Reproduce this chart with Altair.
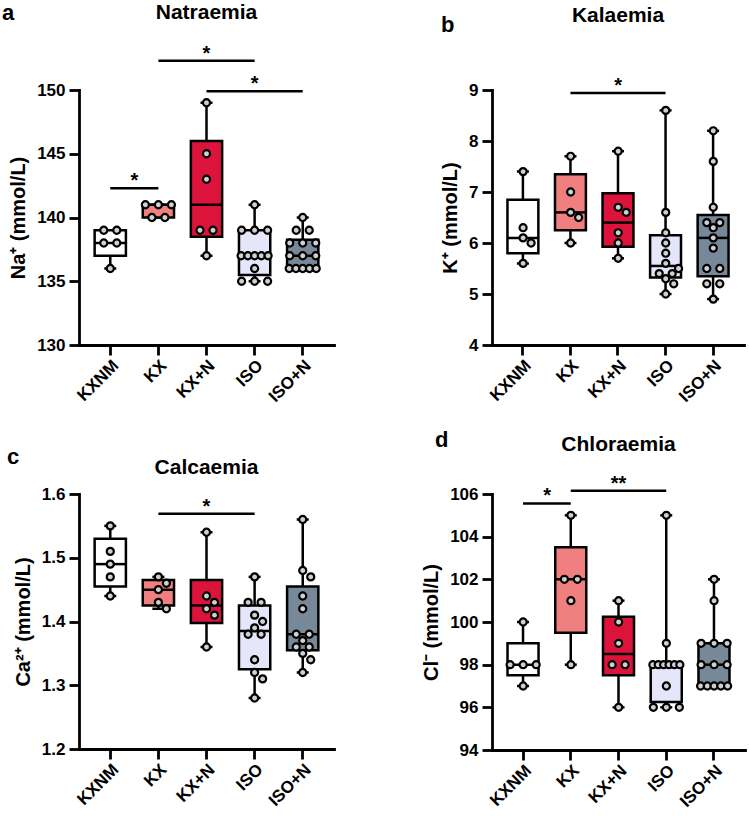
import altair as alt
import pandas as pd
import numpy as np

groups = ["KXNM", "KX", "KX+N", "ISO", "ISO+N"]
colors = ["#FFFFFF", "#F08080", "#DC143C", "#E6E6FA", "#778899"]

# Natraemia (mmol/L)
na_kxnm = [139, 139, 138, 138, 136]
na_kx = [141, 141, 141, 140, 140]
na_kxn = [149, 145, 143, 139, 139, 137]
na_iso = [141, 139, 139, 139, 137, 137, 137, 137, 137, 136, 135, 135, 135]
na_ison = [140, 139, 139, 138, 138, 138, 137, 137, 137, 136, 136, 136, 136, 136]

# Kalaemia (mmol/L)
k_kxnm = [7.4, 6.3, 6.1, 6.0, 5.6]
k_kx = [7.7, 7.0, 6.6, 6.5, 6.0]
k_kxn = [7.8, 6.7, 6.6, 6.2, 6.0, 5.7]
k_iso = [8.6, 6.6, 6.2, 6.0, 5.8, 5.6, 5.5, 5.4, 5.4, 5.3, 5.2, 5.0]
k_ison = [8.2, 7.6, 6.7, 6.4, 6.4, 6.3, 6.1, 5.9, 5.5, 5.5, 5.2, 5.2, 4.9]

# Calcaemia (mmol/L)
ca_kxnm = [1.55, 1.51, 1.49, 1.47, 1.44]
ca_kx = [1.47, 1.46, 1.45, 1.43, 1.42]
ca_kxn = [1.54, 1.44, 1.43, 1.42, 1.41, 1.36]
ca_iso = [1.47, 1.43, 1.43, 1.41, 1.40, 1.39, 1.38, 1.38, 1.34, 1.32, 1.31, 1.28]
ca_ison = [1.56, 1.48, 1.47, 1.44, 1.42, 1.38, 1.38, 1.37, 1.36, 1.36, 1.35, 1.34, 1.32]

# Chloraemia (mmol/L)
cl_kxnm = [100, 98, 98, 98, 97]
cl_kx = [105, 102, 102, 101, 98]
cl_kxn = [101, 100, 99, 98, 98, 96]
cl_iso = [105, 99, 98, 98, 98, 98, 98, 98, 97, 96, 96, 96]
cl_ison = [102, 101, 99, 99, 99, 98, 98, 98, 97, 97, 97, 97, 97]

# significance bars: (from, to, level, label)
sig_na = [("KXNM", "KX", 142.3, "*"), ("KX", "ISO", 152.3, "*"), ("KX+N", "ISO+N", 149.9, "*")]
sig_k = [("KX", "ISO", 8.94, "*")]
sig_ca = [("KX", "ISO", 1.569, "*")]
sig_cl = [("KXNM", "KX", 105.56, "*"), ("KX", "ISO", 106.15, "**")]

FONT = "Liberation Sans"
P_IN, P_OUT = 0.35, 0.325


def swarm(vals, ppu, d=8.0):
    offs = [0.0] * len(vals)
    placed = []
    byval = {}
    for i, v in enumerate(vals):
        byval.setdefault(v, []).append(i)
    for v, idx in byval.items():
        k = len(idx)
        if k > 1:
            sp = min(13.0, 27.0 / (k - 1))
            for j, i in enumerate(idx):
                o = (j - (k - 1) / 2) * sp
                offs[i] = o
                placed.append((o, v * ppu))
    cands = [0.0, d, -d, 1.6 * d, -1.6 * d]
    for v in sorted(byval, reverse=True):
        idx = byval[v]
        if len(idx) == 1:
            y = v * ppu
            best = 0.0
            for c in cands:
                if all((c - o) ** 2 + (y - yy) ** 2 >= (0.9 * d) ** 2 for o, yy in placed):
                    best = c
                    break
            offs[idx[0]] = best
            placed.append((best, y))
    return offs


def panel(series, ytitle, dom, ticks, fmt, sig, title, letter, W, H,
          title_y, letter_x, letter_y):
    ppu = H / (dom[1] - dom[0])
    step = W / (len(groups) - P_IN + 2 * P_OUT)
    bw = step * (1 - P_IN)
    pts, stats = [], []
    for g, vals in zip(groups, series):
        for v, o in zip(vals, swarm(vals, ppu)):
            pts.append({"group": g, "value": v, "off": o})
        q1, med, q3 = np.quantile(vals, [0.25, 0.5, 0.75], method="weibull")
        stats.append({"group": g, "lo": min(vals), "hi": max(vals),
                      "q1": q1, "med": med, "q3": q3})
    pts = pd.DataFrame(pts)
    stats = pd.DataFrame(stats)
    srows = []
    for a, b, lvl, lab in sig:
        i, j = groups.index(a), groups.index(b)
        m = (i + j) / 2
        srows.append({"a": a, "b": b, "value": lvl, "lab": lab,
                      "mid": groups[int(np.floor(m))],
                      "off": (m - np.floor(m)) * step})
    sdf = pd.DataFrame(srows)

    xax = alt.Axis(title=None, labelAngle=-45, labelFontSize=17, labelFontWeight="bold",
                   labelFont=FONT, labelColor="black", tickSize=10, tickWidth=2.8,
                   tickColor="black", domainWidth=2.8, domainColor="black",
                   labelPadding=2, domainCap="square")
    yax = alt.Axis(title=ytitle, values=ticks, format=fmt, labelFontSize=17,
                   labelFontWeight="bold", labelFont=FONT, labelColor="black",
                   tickSize=10, tickWidth=2.8, tickColor="black", domainWidth=2.8,
                   domainColor="black", labelPadding=4, titleFont=FONT,
                   titleFontSize=20, titleFontWeight="bold", titleColor="black",
                   titlePadding=8, grid=False, domainCap="square")
    xs = alt.Scale(domain=groups, paddingInner=P_IN, paddingOuter=P_OUT)
    ys = alt.Scale(domain=dom, nice=False, zero=False)
    # offsets are measured from the band start, so shift by half a band
    offs = alt.Scale(domain=[-40, 40], range=[-40 + bw / 2, 40 + bw / 2])
    X = lambda: alt.X("group:N", scale=xs, axis=xax, sort=groups)

    whisk = alt.Chart(stats).mark_rule(color="black", strokeWidth=2.5).encode(
        x=X(), y=alt.Y("lo:Q", scale=ys, axis=yax), y2="hi:Q")
    cap_lo = alt.Chart(stats).mark_tick(color="black", size=12, thickness=2.5, opacity=1).encode(
        x=X(), y=alt.Y("lo:Q", scale=ys, axis=yax))
    cap_hi = alt.Chart(stats).mark_tick(color="black", size=12, thickness=2.5, opacity=1).encode(
        x=X(), y=alt.Y("hi:Q", scale=ys, axis=yax))
    box = alt.Chart(stats).mark_bar(stroke="black", strokeWidth=2.5, opacity=1, size=bw).encode(
        x=X(), y=alt.Y("q1:Q", scale=ys, axis=yax), y2="q3:Q",
        fill=alt.Fill("group:N", scale=alt.Scale(domain=groups, range=colors), legend=None))
    med = alt.Chart(stats).mark_tick(color="black", size=bw, thickness=2.5, opacity=1).encode(
        x=X(), y=alt.Y("med:Q", scale=ys, axis=yax))
    dots = alt.Chart(pts).mark_circle(size=50, fill="#D0D0D0", stroke="black",
                                      strokeWidth=2.2, opacity=1, fillOpacity=1).encode(
        x=X(), xOffset=alt.XOffset("off:Q", scale=offs),
        y=alt.Y("value:Q", scale=ys, axis=yax))
    layers = [whisk, cap_lo, cap_hi, box, med, dots]
    if len(sdf):
        srule = alt.Chart(sdf).mark_rule(color="black", strokeWidth=2.5).encode(
            x=alt.X("a:N", scale=xs, axis=xax, sort=groups), x2="b:N",
            y=alt.Y("value:Q", scale=ys, axis=yax))
        stext = alt.Chart(sdf).mark_text(font=FONT, fontSize=20, fontWeight="bold",
                                         color="black", baseline="alphabetic", dy=-1).encode(
            x=alt.X("mid:N", scale=xs, axis=xax, sort=groups),
            xOffset=alt.XOffset("off:Q", scale=offs),
            y=alt.Y("value:Q", scale=ys, axis=yax), text="lab:N")
        layers += [srule, stext]
    ttl = alt.Chart(pd.DataFrame({"t": [title]})).mark_text(
        font=FONT, fontSize=21, fontWeight="bold", color="black", align="center",
        baseline="alphabetic").encode(x=alt.value(W / 2), y=alt.value(title_y), text="t:N")
    let = alt.Chart(pd.DataFrame({"t": [letter]})).mark_text(
        font=FONT, fontSize=22, fontWeight="bold", color="black", align="left",
        baseline="alphabetic").encode(x=alt.value(letter_x), y=alt.value(letter_y), text="t:N")
    layers += [ttl, let]
    return alt.layer(*layers).properties(width=W, height=H)


pa = panel([na_kxnm, na_kx, na_kxn, na_iso, na_ison], "Na⁺ (mmol/L)", [130, 150],
           [130, 135, 140, 145, 150], "d", sig_na, "Natraemia", "a", 255, 255, -71, -77, -70)
pb = panel([k_kxnm, k_kx, k_kxn, k_iso, k_ison], "K⁺ (mmol/L)", [4, 9],
           [4, 5, 6, 7, 8, 9], "d", sig_k, "Kalaemia", "b", 252, 255, -68, -51, -58)
pc = panel([ca_kxnm, ca_kx, ca_kxn, ca_iso, ca_ison], "Ca²⁺ (mmol/L)", [1.2, 1.6],
           [1.2, 1.3, 1.4, 1.5, 1.6], ".1f", sig_ca, "Calcaemia", "c", 255, 255, -20, -72, -30)
pd_ = panel([cl_kxnm, cl_kx, cl_kxn, cl_iso, cl_ison], "Cl⁻ (mmol/L)", [94, 106],
            [94, 96, 98, 100, 102, 104, 106], "d", sig_cl, "Chloraemia", "d", 253, 256, -43, -57, -47)

chart = alt.concat(
    pa, pb, pc, pd_, columns=2, bounds="flush",
    spacing=alt.RowColnumber(row=149, column=158)
).configure_view(stroke=None).properties(padding={"left": 2, "top": 2, "right": 2, "bottom": 2})

chart.save("out.html", embed_options={"renderer": "svg", "actions": False})
